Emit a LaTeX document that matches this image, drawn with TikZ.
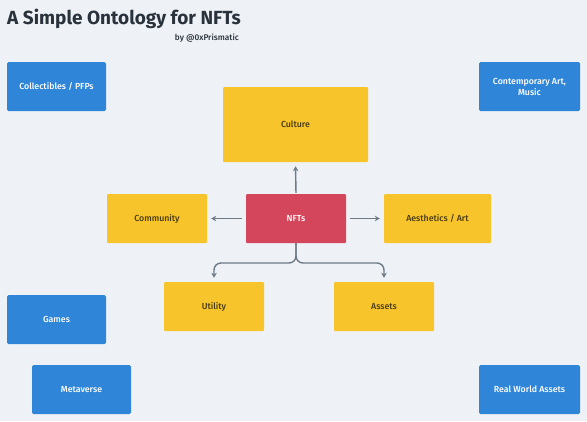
\documentclass[tikz,border=0pt]{standalone}
\usepackage{fontspec}
\setmainfont{Fira Sans}
\newfontfamily\labelfont{Fira Sans Medium}
\usetikzlibrary{arrows.meta,positioning}

\definecolor{pagebg}{HTML}{EEF2F6}
\definecolor{topicblue}{HTML}{2F86D8}
\definecolor{topicyellow}{HTML}{F7C52B}
\definecolor{corered}{HTML}{D4465C}
\definecolor{linkgray}{HTML}{6E7A86}
\definecolor{inkdark}{HTML}{2A323C}
\definecolor{inkbrown}{HTML}{4A3A12}

\begin{document}
\begin{tikzpicture}[
  x=1pt,y=-1pt,
  >={Stealth[length=5pt,width=5.5pt]},
  every node/.style={font=\labelfont\fontsize{8.8}{11}\selectfont,align=center},
  outer/.style={
    fill=topicblue,
    text=white,
    rounded corners=1.5pt,
    minimum width=99pt,
    minimum height=49pt,
    inner sep=2pt
  },
  facet/.style={
    fill=topicyellow,
    text=inkbrown,
    rounded corners=1pt,
    minimum width=100pt,
    minimum height=49pt,
    inner sep=2pt
  },
  core/.style={facet,fill=corered,text=white},
  link/.style={->,draw=linkgray,line width=1.4pt,shorten >=4pt,shorten <=4pt}
]
  \fill[pagebg] (0,0) rectangle (587,421);
  \useasboundingbox (0,0) rectangle (587,421);

  % heading
  \node[anchor=base west,inner sep=0pt,text=inkdark,
    font=\fontsize{19}{22}\selectfont\bfseries] (title) at (7,24) {A Simple Ontology for NFTs};
  \node[anchor=base east,inner sep=0pt,text=inkdark,
    font=\labelfont\fontsize{8.3}{10}\selectfont] (byline) at (239,40) {by @0xPrismatic};

  % centre and facets
  \node[core] (nfts) at (296,218.5) {NFTs};
  \node[facet,minimum width=145pt,minimum height=75pt] (culture) at (295.5,124.5) {Culture};
  \node[facet] (community) at (157,218.5) {Community};
  \node[facet,minimum width=107pt] (aesthetics) at (437.5,218.5) {Aesthetics / Art};
  \node[facet] (utility) at (214,306.5) {Utility};
  \node[facet] (assets) at (384,306.5) {Assets};

  % outer topics
  \node[outer] (collectibles) at (56.5,86.5) {Collectibles / PFPs};
  \node[outer,minimum width=101pt] (contemporary) at (529.5,86.5) {Contemporary Art,\\Music};
  \node[outer] (games) at (56.5,319.5) {Games};
  \node[outer] (metaverse) at (81.5,389.5) {Metaverse};
  \node[outer,minimum width=101pt] (realworld) at (529.5,389.5) {Real World Assets};

  % fork under the centre
  \coordinate (forkL) at (255,263);
  \coordinate (forkR) at (340,263);

  % links
  \draw[link,shorten <=1pt] (nfts.north) -- (culture.south);
  \draw[link] (nfts.west) -- (community.east);
  \draw[link] (nfts.east) -- (aesthetics.west);
  \draw[link,shorten <=0pt,rounded corners=7pt] (nfts.south) |- (forkL) -| (utility.north);
  \draw[link,shorten <=0pt,rounded corners=7pt] (nfts.south) |- (forkR) -| (assets.north);
\end{tikzpicture}
\end{document}
